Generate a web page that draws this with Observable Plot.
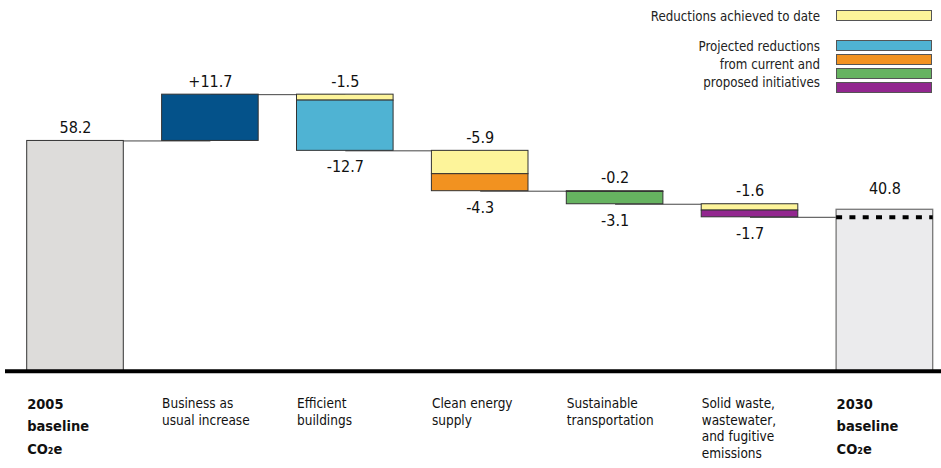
<!DOCTYPE html>
<html><head><meta charset="utf-8">
<script src="https://cdn.jsdelivr.net/npm/d3@7"></script>
<script src="https://cdn.jsdelivr.net/npm/@observablehq/plot@0.6"></script>
<style>
body{margin:0;background:#fff;}
#wrap{position:relative;width:941px;height:468px;font-family:"DejaVu Sans Condensed","DejaVu Sans",sans-serif;color:#222;}
#wrap svg{position:absolute;left:0;top:0;}
.lt{position:absolute;font-size:13.2px;line-height:17.8px;text-align:right;white-space:nowrap;right:121px;}
.sw{position:absolute;left:836px;width:94px;height:9px;border:1.5px solid #555;}
</style></head><body>
<div id="wrap"></div>
<script>
// ---- data ----
const categories = ["2005", "bau", "buildings", "energy", "transport", "waste", "2030"];
const categoryLabels = [
  "2005\nbaseline\nCO₂e",
  "Business as\nusual increase",
  "Efficient\nbuildings",
  "Clean energy\nsupply",
  "Sustainable\ntransportation",
  "Solid waste,\nwastewater,\nand fugitive\nemissions",
  "2030\nbaseline\nCO₂e"
];
const boldCategories = ["2005", "2030"];
const baseline2005 = 58.2;
const bauIncrease = 11.7;
const reductionCategories = ["buildings", "energy", "transport", "waste"];
const achievedReductions = [-1.5, -5.9, -0.2, -1.6];
const projectedReductions = [-12.7, -4.3, -3.1, -1.7];
const baseline2030 = 40.8;
const legendAchieved = "Reductions achieved to date";
const legendProjected = ["Projected reductions", "from current and", "proposed initiatives"];
const kinds = ["base2005", "increase", "achieved", "buildings", "energy", "transport", "waste", "base2030"];
const kindColors = ["#dddcda", "#04528a", "#fdf49a", "#4fb3d3", "#f29220", "#66b360", "#92278f", "#ebebed"];

// ---- derived table ----
const fmt = v => (v < 0 ? "-" : "+") + Math.abs(v).toFixed(1);
const segments = [];
const connectors = [];
const above = [];
const below = [];
segments.push({cat: "2005", y1: 0, y2: baseline2005, kind: "base2005"});
above.push({cat: "2005", y: baseline2005, label: baseline2005.toFixed(1)});
let run = baseline2005;
connectors.push({a: "2005", b: "bau", y: run});
segments.push({cat: "bau", y1: run, y2: run + bauIncrease, kind: "increase"});
above.push({cat: "bau", y: run + bauIncrease, label: fmt(bauIncrease)});
run += bauIncrease;
let prev = "bau";
reductionCategories.forEach((c, i) => {
  connectors.push({a: prev, b: c, y: run});
  const a = achievedReductions[i], p = projectedReductions[i];
  above.push({cat: c, y: run, label: fmt(a)});
  segments.push({cat: c, y1: run, y2: run + a, kind: "achieved"});
  run += a;
  segments.push({cat: c, y1: run, y2: run + p, kind: c});
  run += p;
  below.push({cat: c, y: run, label: fmt(p)});
  prev = c;
});
connectors.push({a: prev, b: "2030", y: run});
const endValue = run;
const seg2030 = [{cat: "2030", y1: 0, y2: baseline2030, kind: "base2030"}];
const label2030 = [{cat: "2030", y: baseline2030, label: baseline2030.toFixed(1)}];
const labelRows = categories.map((c, i) => ({cat: c, label: categoryLabels[i], bold: boldCategories.includes(c)}));

const chart = Plot.plot({
  width: 941, height: 468,
  marginTop: 0, marginBottom: 97.3, marginLeft: 5, marginRight: 0,
  x: {type: "band", domain: categories, range: [26.7, 932.7], paddingInner: 0.284, paddingOuter: 0, round: false, axis: null},
  y: {domain: [0, 93.7], axis: null},
  color: {domain: kinds, range: kindColors},
  style: {fontFamily: '"DejaVu Sans Condensed","DejaVu Sans",sans-serif', background: "white", color: "#111"},
  marks: [
    Plot.link(connectors, {x1: "a", x2: "b", y1: "y", y2: "y", stroke: "#444", strokeWidth: 1}),
    Plot.barY(segments, {x: "cat", y1: "y1", y2: "y2", fill: "kind", stroke: "#333", strokeWidth: 1}),
    Plot.barY(seg2030, {x: "cat", y1: "y1", y2: "y2", fill: "kind", stroke: "#777", strokeWidth: 1.3}),
    Plot.tickY([{cat: "2030", y: endValue}], {x: "cat", y: "y", stroke: "#000", strokeWidth: 4, strokeDasharray: "6,7.3"}),
    Plot.text(above, {x: "cat", y: "y", text: "label", lineAnchor: "bottom", dy: -8, fontSize: 16, fill: "#111"}),
    Plot.text(label2030, {x: "cat", y: "y", text: "label", lineAnchor: "bottom", dy: -16, fontSize: 16, fill: "#111"}),
    Plot.text(below, {x: "cat", y: "y", text: "label", lineAnchor: "top", dy: 10, fontSize: 16, fill: "#111"}),
    Plot.text(labelRows.filter(d => !d.bold), {x: "cat", y: 0, text: "label", textAnchor: "start", lineAnchor: "top", dx: -48.3, dy: 24.8, fontSize: 13.5, lineHeight: 1.237, fill: "#111"}),
    Plot.text(labelRows.filter(d => d.bold), {x: "cat", y: 0, text: "label", textAnchor: "start", lineAnchor: "top", dx: -48.3, dy: 21.5, fontSize: 14.5, fontWeight: "bold", lineHeight: 1.55, fill: "#111"}),
    Plot.ruleY([0], {stroke: "#000", strokeWidth: 4})
  ]
});
const wrap = document.getElementById("wrap");
wrap.appendChild(chart);

// ---- legend (HTML overlay) ----
function addText(txt, top) {
  const d = document.createElement("div");
  d.className = "lt"; d.style.top = top + "px"; d.innerHTML = txt;
  wrap.appendChild(d);
}
function addSwatch(kind, top) {
  const d = document.createElement("div");
  d.className = "sw"; d.style.top = top + "px";
  d.style.background = kindColors[kinds.indexOf(kind)];
  wrap.appendChild(d);
}
addText(legendAchieved, 7.5);
addText(legendProjected.join("<br>"), 38.2);
addSwatch("achieved", 10);
addSwatch("buildings", 40);
addSwatch("energy", 54);
addSwatch("transport", 68);
addSwatch("waste", 81.7);
</script>
</body></html>
